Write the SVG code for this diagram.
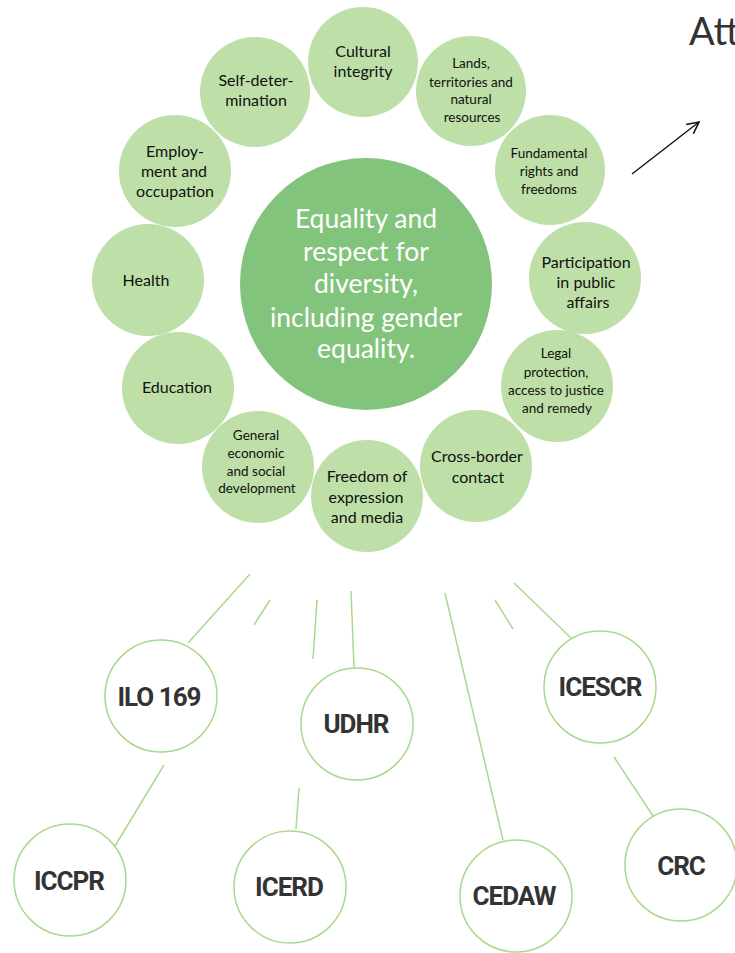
<svg xmlns="http://www.w3.org/2000/svg" width="735" height="953" viewBox="0 0 735 953">
<defs>
<marker id="open" viewBox="0 0 12 12" refX="11" refY="6" markerWidth="14" markerHeight="14" markerUnits="userSpaceOnUse" orient="auto">
<path d="M1,1 L11,6 L1,11" fill="none" stroke="#111" stroke-width="1.4"/>
</marker>
<style>
.s{fill:#bedfa7}
.c{fill:#82c47c}
.t{font-family:Lato,"Open Sans",sans-serif;font-size:16px;fill:#111;text-anchor:middle}
.ts{font-size:13.5px}
.ct{font-family:Lato,"Open Sans",sans-serif;font-size:26.5px;fill:#fff;text-anchor:middle}
.b{fill:#fff;stroke:#a9d98f;stroke-width:1.5}
.bt{font-family:Roboto,"Liberation Sans",sans-serif;font-weight:bold;font-size:26px;fill:#333;text-anchor:middle;letter-spacing:-1px}
.ln{stroke:#a9d98f;stroke-width:1.5;fill:none}
</style>
</defs>
<rect width="735" height="953" fill="#fff"/>

<text x="689" y="45" font-family="Lato,'Open Sans',sans-serif" font-size="38" fill="#333">Att</text>

<g id="connectors">
<line x1="632" y1="174" x2="699" y2="122" stroke="#111" stroke-width="1.4" marker-end="url(#open)"/>
<line class="ln" x1="250" y1="574" x2="188" y2="643"/>
<line class="ln" x1="270" y1="600" x2="254" y2="625"/>
<line class="ln" x1="317" y1="600" x2="313" y2="659"/>
<line class="ln" x1="351" y1="591" x2="354" y2="667"/>
<line class="ln" x1="445" y1="593" x2="503" y2="840"/>
<line class="ln" x1="495" y1="600" x2="513" y2="629"/>
<line class="ln" x1="514" y1="583" x2="571" y2="638"/>
<line class="ln" x1="164" y1="765" x2="115" y2="846"/>
<line class="ln" x1="299" y1="788" x2="296" y2="829"/>
<line class="ln" x1="614" y1="757" x2="653" y2="816"/>
</g>

<g id="center">
<circle class="c" cx="366" cy="284" r="126"/>
<text class="ct" x="366" y="228">Equality and</text>
<text class="ct" x="366" y="261">respect for</text>
<text class="ct" x="366" y="293">diversity,</text>
<text class="ct" x="366" y="327">including gender</text>
<text class="ct" x="366" y="358">equality.</text>
</g>

<g id="cultural">
<circle class="s" cx="363" cy="62" r="55"/>
<text class="t" x="363" y="57">Cultural</text>
<text class="t" x="363" y="77">integrity</text>
</g>
<g id="selfdet">
<circle class="s" cx="255" cy="92" r="55"/>
<text class="t" x="256" y="86">Self-deter-</text>
<text class="t" x="256" y="106">mination</text>
</g>
<g id="lands">
<circle class="s" cx="471" cy="91" r="55"/>
<text class="t ts" x="471" y="68">Lands,</text>
<text class="t ts" x="471" y="87">territories and</text>
<text class="t ts" x="471" y="104">natural</text>
<text class="t ts" x="472" y="122">resources</text>
</g>
<g id="employment">
<circle class="s" cx="175" cy="171" r="56"/>
<text class="t" x="175" y="157">Employ-</text>
<text class="t" x="174" y="177">ment and</text>
<text class="t" x="175" y="197">occupation</text>
</g>
<g id="fundamental">
<circle class="s" cx="550" cy="170" r="55"/>
<text class="t ts" x="549" y="158">Fundamental</text>
<text class="t ts" x="549" y="176">rights and</text>
<text class="t ts" x="549" y="194">freedoms</text>
</g>
<g id="health">
<circle class="s" cx="148" cy="280" r="56"/>
<text class="t" x="146" y="286">Health</text>
</g>
<g id="participation">
<circle class="s" cx="585" cy="278" r="56"/>
<text class="t" x="586" y="268">Participation</text>
<text class="t" x="586" y="288">in public</text>
<text class="t" x="588" y="308">affairs</text>
</g>
<g id="education">
<circle class="s" cx="178" cy="388" r="56"/>
<text class="t" x="177" y="393">Education</text>
</g>
<g id="legal">
<circle class="s" cx="557" cy="386" r="56"/>
<text class="t ts" x="556" y="358">Legal</text>
<text class="t ts" x="556" y="377">protection,</text>
<text class="t ts" x="556" y="395">access to justice</text>
<text class="t ts" x="557" y="413">and remedy</text>
</g>
<g id="general">
<circle class="s" cx="258" cy="467" r="56"/>
<text class="t ts" x="256" y="440">General</text>
<text class="t ts" x="256" y="458">economic</text>
<text class="t ts" x="256" y="476">and social</text>
<text class="t ts" x="257" y="493">development</text>
</g>
<g id="freedom">
<circle class="s" cx="367" cy="496" r="56"/>
<text class="t" x="367" y="482">Freedom of</text>
<text class="t" x="366" y="503">expression</text>
<text class="t" x="367" y="523">and media</text>
</g>
<g id="crossborder">
<circle class="s" cx="476" cy="466" r="56"/>
<text class="t" x="477" y="462">Cross-border</text>
<text class="t" x="478" y="483">contact</text>
</g>

<g id="ilo169">
<circle class="b" cx="161" cy="696" r="56"/>
<text class="bt" x="159" y="706">ILO 169</text>
</g>
<g id="udhr">
<circle class="b" cx="357" cy="724" r="56"/>
<text class="bt" x="356" y="733">UDHR</text>
</g>
<g id="icescr">
<circle class="b" cx="600" cy="687" r="56"/>
<text class="bt" x="600" y="696">ICESCR</text>
</g>
<g id="iccpr">
<circle class="b" cx="70" cy="880" r="56"/>
<text class="bt" x="69" y="890">ICCPR</text>
</g>
<g id="icerd">
<circle class="b" cx="290" cy="887" r="56"/>
<text class="bt" x="289" y="896">ICERD</text>
</g>
<g id="cedaw">
<circle class="b" cx="516" cy="896" r="56"/>
<text class="bt" x="514" y="905">CEDAW</text>
</g>
<g id="crc">
<circle class="b" cx="681" cy="865" r="56"/>
<text class="bt" x="681" y="875">CRC</text>
</g>
</svg>
